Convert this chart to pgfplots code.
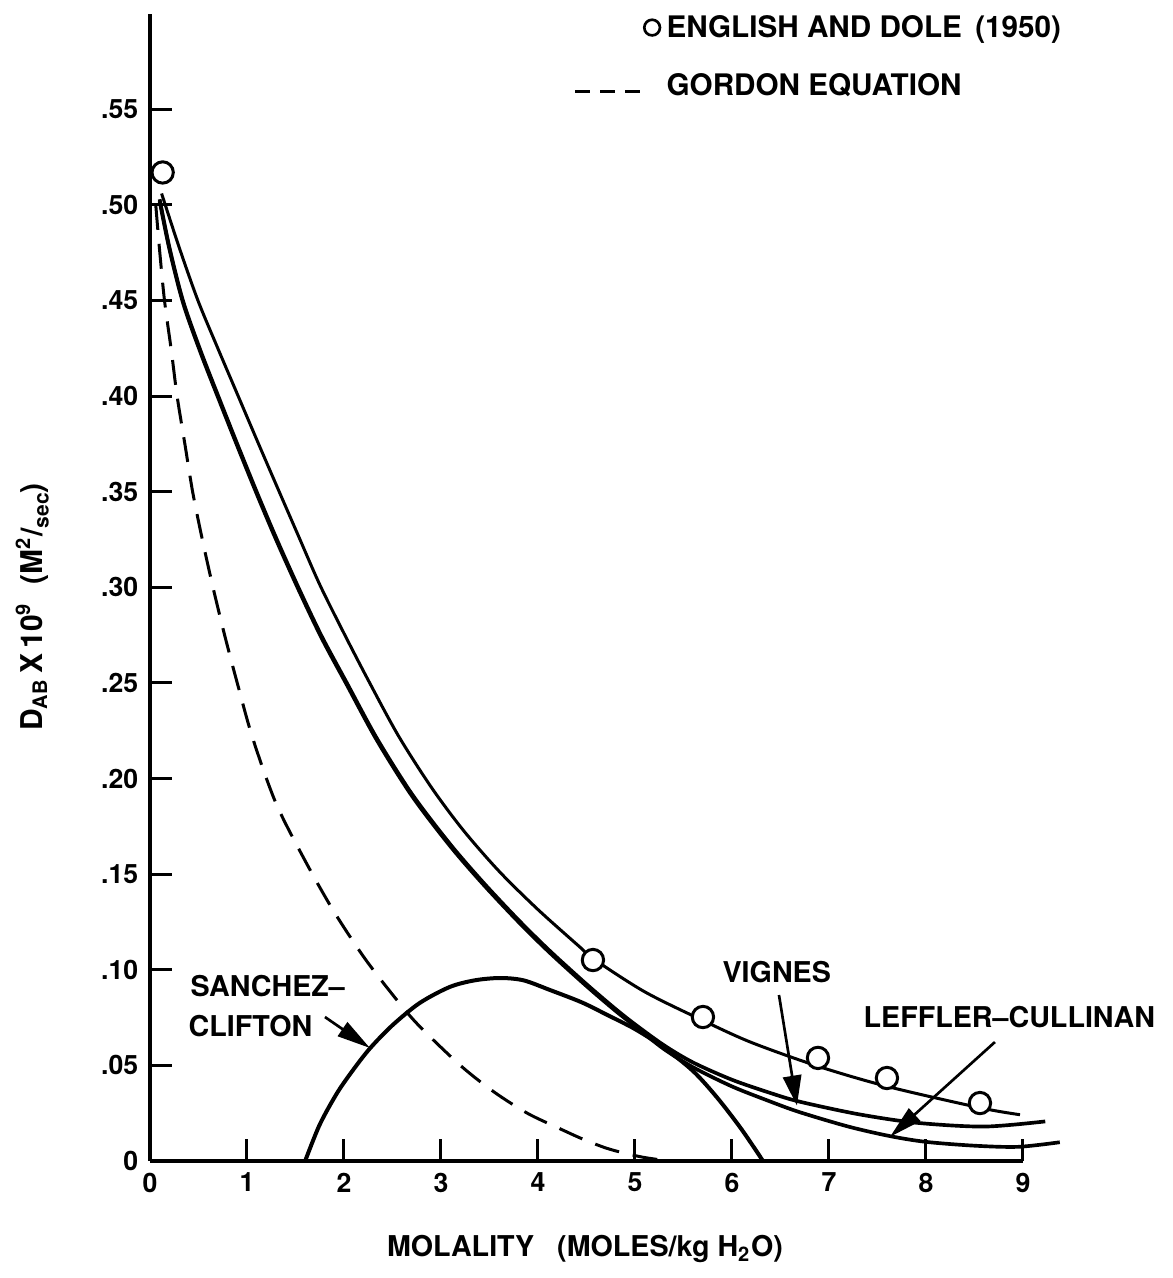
\documentclass[border=0pt]{standalone}
\usepackage{fontspec}
\setmainfont{TeX Gyre Heros}
\usepackage{pgfplots}
\pgfplotsset{compat=1.18}
\usetikzlibrary{arrows.meta}

\newcommand{\lblfont}{\fontsize{8.6}{10}\selectfont\bfseries}
\newcommand{\legfont}{\fontsize{8.9}{10.5}\selectfont\bfseries}
\newcommand{\tickfont}{\fontsize{8}{9.6}\selectfont\bfseries}

\begin{document}
\begin{tikzpicture}
\begin{axis}[
  scale only axis,
  width=261.9pt, height=344.16pt,
  xmin=0, xmax=9, ymin=0, ymax=0.6,
  axis lines=left,
  axis line style={-, line width=1.2pt},
  clip=false,
  xtick={0,1,2,3,4,5,6,7,8,9},
  xticklabels={0,1,2,3,4,5,6,7,8,9},
  ytick={0,0.05,0.10,0.15,0.20,0.25,0.30,0.35,0.40,0.45,0.50,0.55},
  yticklabels={0,.05,.10,.15,.20,.25,.30,.35,.40,.45,.50,.55},
  tick align=inside,
  major tick length=6.6pt,
  tick style={line width=0.9pt, black},
  ticklabel style={font=\tickfont},
  legend style={
    draw=none, fill=none, inner sep=0pt,
    at={(axis cs:4.361,0.5987)}, anchor=north west,
    cells={anchor=base west},
    nodes={inner sep=0pt, text height=6.3pt, text depth=0pt, font=\legfont},
    column sep=1.6pt, row sep=11.1pt,
  },
]

% legend glyphs
\addlegendimage{black, line width=0.8pt,
  legend image code/.code={\draw[black, line width=0.8pt, fill=white] (23.1pt,3.1pt) circle[radius=2.35pt];}}
\addlegendentry{ENGLISH AND DOLE\hspace{0.45em}(1950)}
\addlegendimage{black, line width=0.9pt,
  legend image code/.code={\draw[black, line width=0.9pt, dash pattern=on 4.5pt off 3pt] (0pt,1.2pt) -- (19.5pt,1.2pt);}}
\addlegendentry{GORDON EQUATION}

% Gordon equation (dashed)
\addplot[forget plot, black, line width=0.9pt, dash pattern=on 7.5pt off 4.2pt, smooth] coordinates {
  (0.06,0.500) (0.10,0.476) (0.15,0.450) (0.22,0.424) (0.28,0.400)
  (0.36,0.375) (0.44,0.350) (0.54,0.325) (0.65,0.300) (0.77,0.275)
  (0.90,0.250) (1.06,0.221) (1.30,0.187) (1.60,0.157) (1.89,0.131)
  (2.20,0.107) (2.47,0.089) (2.75,0.072) (3.20,0.050) (3.55,0.036)
  (3.89,0.025) (4.20,0.0175) (4.46,0.0115) (4.70,0.0068) (4.90,0.0040)
  (5.10,0.0018) (5.35,0.0)
};

% Sanchez-Clifton
\addplot[forget plot, black, line width=1.2pt, smooth] coordinates {
  (1.60,0) (1.75,0.019) (1.93,0.0356) (2.10,0.048) (2.27,0.059)
  (2.50,0.071) (2.78,0.0826) (3.09,0.091) (3.35,0.0945) (3.61,0.0957)
  (3.85,0.0945) (4.12,0.0895) (4.45,0.083) (4.71,0.0765) (5.00,0.069)
  (5.29,0.0596) (5.60,0.047) (5.85,0.033) (6.10,0.0165) (6.32,0)
};

% Leffler-Cullinan
\addplot[forget plot, black, line width=1.1pt, smooth] coordinates {
  (0.10,0.502) (0.20,0.477) (0.34,0.449) (0.52,0.423) (0.72,0.397)
  (0.90,0.374) (1.10,0.349) (1.30,0.325) (1.53,0.299) (1.77,0.2735)
  (2.03,0.249) (2.34,0.220) (2.70,0.191) (3.09,0.165) (3.43,0.145)
  (3.80,0.125) (4.12,0.109) (4.50,0.0915) (4.80,0.0785) (5.00,0.0705)
  (5.30,0.0585) (5.60,0.0490) (6.00,0.0390) (6.40,0.0310) (6.70,0.0255)
  (7.20,0.0180) (7.63,0.0130) (8.00,0.0100) (8.50,0.0080) (8.95,0.0074)
  (9.38,0.0098)
};

% Vignes
\addplot[forget plot, black, line width=1.1pt, smooth] coordinates {
  (0.10,0.503) (0.20,0.478) (0.34,0.450) (0.52,0.424) (0.72,0.398)
  (0.90,0.375) (1.10,0.350) (1.30,0.326) (1.53,0.300) (1.77,0.2745)
  (2.03,0.250) (2.34,0.221) (2.70,0.192) (3.09,0.166) (3.43,0.146)
  (3.80,0.126) (4.12,0.110) (4.50,0.0925) (4.80,0.0795) (5.00,0.0715)
  (5.30,0.0605) (5.60,0.0515) (6.00,0.0425) (6.40,0.0355) (6.70,0.0310)
  (7.30,0.0245) (7.90,0.0200) (8.60,0.0180) (9.23,0.0207)
};

% curve through the measured points
\addplot[forget plot, black, line width=0.9pt, smooth] coordinates {
  (0.12,0.506) (0.30,0.478) (0.495,0.450) (0.70,0.425) (0.91,0.400)
  (1.12,0.375) (1.32,0.3515) (1.53,0.327) (1.75,0.3015) (2.00,0.276)
  (2.25,0.2515) (2.56,0.2225) (2.90,0.1955) (3.23,0.173) (3.60,0.1515)
  (4.00,0.1315) (4.43,0.112) (4.57,0.1058) (5.10,0.0885) (5.70,0.0735)
  (6.20,0.0620) (6.89,0.0495) (7.60,0.0390) (8.56,0.0278) (8.97,0.0242)
};

% English and Dole (1950)
\addplot[forget plot, only marks, mark=*, mark size=3.2pt,
  mark options={fill=white, draw=black, line width=0.9pt}] coordinates {
  (0.131,0.517) (4.567,0.1051) (5.701,0.0753) (6.887,0.0539)
  (7.598,0.0434) (8.557,0.0303)
};

% labels and pointers
\node[anchor=base west, font=\lblfont, inner sep=0pt] at (axis cs:0.412,0.0858) {SANCHEZ--};
\node[anchor=base west, font=\lblfont, inner sep=0pt] at (axis cs:0.392,0.0649) {CLIFTON};
\draw[line width=0.8pt, -{Triangle[length=10pt,width=5pt]}] (axis cs:1.804,0.0753) -- (axis cs:2.268,0.0591);

\node[anchor=base west, font=\lblfont, inner sep=0pt] at (axis cs:5.897,0.0936) {VIGNES};
\draw[line width=0.8pt, -{Triangle[length=9pt,width=5.5pt]}] (axis cs:6.485,0.0868) -- (axis cs:6.670,0.0290);

\node[anchor=base west, font=\lblfont, inner sep=0pt] at (axis cs:7.351,0.0696) {LEFFLER--CULLINAN};
\draw[line width=0.8pt, -{Triangle[length=10pt,width=5pt]}] (axis cs:8.711,0.0622) -- (axis cs:7.629,0.0126);

% axis titles
\node[anchor=base, font=\lblfont, inner sep=0pt] at (axis cs:4.485,-0.0502)
  {MOLALITY\hspace{0.8em}(MOLES/kg H\textsubscript{2}O)};
\node[anchor=base, rotate=90, font=\fontsize{9}{11}\selectfont\bfseries, inner sep=0pt] at (axis cs:-1.103,0.2897)
  {D\textsubscript{AB}\,X\,10\textsuperscript{9}\hspace{0.6em}(M\textsuperscript{2}/\raisebox{-0.35ex}{\fontsize{6.3}{7}\selectfont sec})};

% page extent
\path (axis cs:-1.546,-0.0612) rectangle (axis cs:10.546,0.6072);
\end{axis}
\end{tikzpicture}
\end{document}
